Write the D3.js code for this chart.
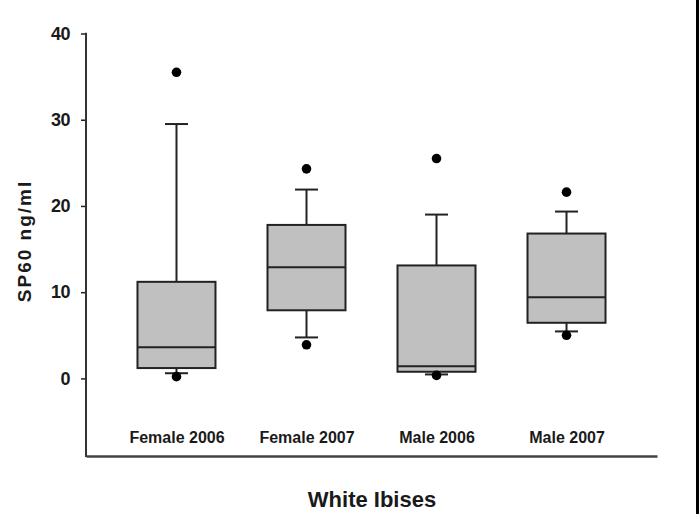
<!DOCTYPE html>
<html><head><meta charset="utf-8">
<script src="https://cdn.jsdelivr.net/npm/d3@7"></script>
<style>
html,body{margin:0;padding:0;background:#fff;}
text{font-family:"Liberation Sans",Arial,sans-serif;font-weight:bold;fill:#1a1a1a;}
</style></head>
<body><svg id="c" width="700" height="514"></svg>
<script>
const categories = ["Female 2006","Female 2007","Male 2006","Male 2007"];
const whiskerLow  = [0.6, 4.75, 0.46, 5.45];
const q1          = [1.2, 7.9, 0.77, 6.45];
const median      = [3.6, 12.9, 1.4, 9.4];
const q3          = [11.2, 17.8, 13.1, 16.8];
const whiskerHigh = [29.5, 21.9, 19.0, 19.35];
const outliers    = [[35.5, 0.2],[24.3, 3.9],[25.5, 0.35],[21.6, 5.0]];
const yTicks = [0,10,20,30,40];
const yLabel = "SP60 ng/ml";
const xLabel = "White Ibises";

(function(){
const svg = d3.select("#c");
const pL = 86, pR = 657, pT = 33.5, pB = 456;
const y = d3.scaleLinear().domain([-9,40]).range([pB, pT]);
const x = d3.scalePoint().domain(categories).range([pL, pR]).padding(0.696);
const boxW = 78, capW = 23;
const ink = "#222";

// right border
svg.append("rect").attr("x",696).attr("y",0).attr("width",3).attr("height",514).attr("fill","#000");

// y axis
const yAxis = d3.axisLeft(y).tickValues(yTicks).tickSize(5).tickPadding(11).tickSizeOuter(0);
const gy = svg.append("g").attr("transform",`translate(${pL},0)`).call(yAxis);
gy.select(".domain").remove();
gy.selectAll(".tick line").attr("stroke",ink).attr("stroke-width",1.5);
gy.selectAll(".tick text").style("font-size","18px").style("letter-spacing","-0.5px").attr("fill","#1a1a1a");
svg.append("line").attr("x1",pL).attr("x2",pL).attr("y1",y(40)-0.75).attr("y2",pB+1)
  .attr("stroke","#333").attr("stroke-width",2);

// x axis (line only, labels inside)
const xAxis = d3.axisBottom(x).tickSize(0).tickSizeOuter(0);
const gx = svg.append("g").attr("transform",`translate(0,${pB})`).call(xAxis);
gx.select(".domain").attr("stroke","#444").attr("stroke-width",2.5);
gx.selectAll(".tick text").style("font-size","16px").attr("y",-13).attr("dy","0").attr("fill","#1a1a1a");

// boxes
const data = categories.map((c,i)=>({c,lo:whiskerLow[i],q1:q1[i],med:median[i],q3:q3[i],hi:whiskerHigh[i],out:outliers[i]}));
const g = svg.append("g").selectAll("g").data(data).join("g");
g.append("line").attr("x1",d=>x(d.c)).attr("x2",d=>x(d.c)).attr("y1",d=>y(d.hi)).attr("y2",d=>y(d.q3)).attr("stroke",ink).attr("stroke-width",2);
g.append("line").attr("x1",d=>x(d.c)).attr("x2",d=>x(d.c)).attr("y1",d=>y(d.q1)).attr("y2",d=>y(d.lo)).attr("stroke",ink).attr("stroke-width",2);
g.append("line").attr("x1",d=>x(d.c)-capW/2).attr("x2",d=>x(d.c)+capW/2).attr("y1",d=>y(d.hi)).attr("y2",d=>y(d.hi)).attr("stroke",ink).attr("stroke-width",2);
g.append("line").attr("x1",d=>x(d.c)-capW/2).attr("x2",d=>x(d.c)+capW/2).attr("y1",d=>y(d.lo)).attr("y2",d=>y(d.lo)).attr("stroke",ink).attr("stroke-width",2);
g.append("rect").attr("x",d=>x(d.c)-boxW/2).attr("width",boxW).attr("y",d=>y(d.q3)).attr("height",d=>y(d.q1)-y(d.q3))
  .attr("fill","#c0c0c0").attr("stroke",ink).attr("stroke-width",2);
g.append("line").attr("x1",d=>x(d.c)-boxW/2).attr("x2",d=>x(d.c)+boxW/2).attr("y1",d=>y(d.med)).attr("y2",d=>y(d.med)).attr("stroke",ink).attr("stroke-width",2);
g.selectAll("circle").data(d=>d.out.map(v=>({c:d.c,v}))).join("circle")
  .attr("cx",d=>x(d.c)).attr("cy",d=>y(d.v)).attr("r",4.8).attr("fill","#000");

// labels
svg.append("text").attr("x",372).attr("y",507).attr("text-anchor","middle").style("font-size","22px").text(xLabel);
svg.append("text").attr("transform","translate(31,241) rotate(-90)").attr("text-anchor","middle")
  .style("font-size","19px").style("letter-spacing","2px").text(yLabel);
})();
</script></body></html>
